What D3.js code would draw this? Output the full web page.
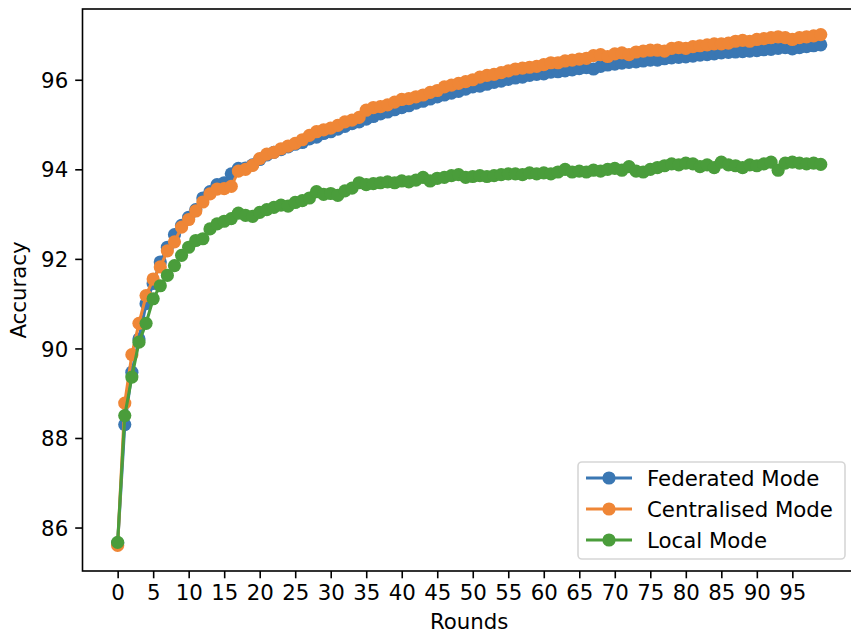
<!DOCTYPE html>
<html>
<head>
<meta charset="utf-8">
<script src="https://cdn.jsdelivr.net/npm/d3@7"></script>
<style>
  html, body { margin: 0; padding: 0; background: #fff; }
  svg { display: block; }
  text { font-family: "DejaVu Sans", sans-serif; fill: #000; }
</style>
</head>
<body>
<svg id="chart" width="851" height="633"></svg>
<script>
// Accuracy per training round for three training modes
const rounds = d3.range(0, 100);

const federated = [
  85.65, 88.30, 89.47, 90.21, 91.00, 91.45, 91.93, 92.26, 92.54, 92.75,
  92.93, 93.10, 93.36, 93.50, 93.66, 93.70, 93.90, 94.02, 94.03, 94.10,
  94.22, 94.32, 94.38, 94.44, 94.50, 94.56, 94.60, 94.68, 94.72, 94.80,
  94.84, 94.90, 94.96, 95.02, 95.06, 95.12, 95.18, 95.24, 95.28, 95.33,
  95.38, 95.42, 95.48, 95.52, 95.57, 95.62, 95.66, 95.70, 95.74, 95.79,
  95.84, 95.86, 95.90, 95.94, 95.97, 96.01, 96.04, 96.06, 96.10, 96.12,
  96.13, 96.17, 96.18, 96.20, 96.22, 96.25, 96.27, 96.24, 96.30, 96.33,
  96.35, 96.37, 96.39, 96.40, 96.42, 96.44, 96.44, 96.47, 96.49, 96.50,
  96.51, 96.53, 96.55, 96.56, 96.58, 96.60, 96.61, 96.62, 96.63, 96.64,
  96.65, 96.67, 96.68, 96.70, 96.72, 96.69, 96.72, 96.74, 96.76, 96.78
];

const centralised = [
  85.60, 88.78, 89.86, 90.56, 91.18, 91.55, 91.82, 92.18, 92.38, 92.71,
  92.88, 93.07, 93.27, 93.45, 93.56, 93.57, 93.62, 93.96, 94.00, 94.09,
  94.24, 94.34, 94.38, 94.46, 94.52, 94.58, 94.66, 94.76, 94.84, 94.88,
  94.92, 94.98, 95.06, 95.10, 95.16, 95.32, 95.38, 95.40, 95.44, 95.50,
  95.56, 95.58, 95.62, 95.66, 95.72, 95.76, 95.84, 95.88, 95.92, 95.96,
  96.00, 96.06, 96.10, 96.12, 96.16, 96.20, 96.24, 96.26, 96.28, 96.30,
  96.34, 96.38, 96.38, 96.42, 96.44, 96.46, 96.48, 96.54, 96.56, 96.52,
  96.58, 96.60, 96.56, 96.62, 96.64, 96.66, 96.66, 96.64, 96.70, 96.72,
  96.70, 96.74, 96.76, 96.78, 96.80, 96.80, 96.82, 96.86, 96.88, 96.86,
  96.90, 96.92, 96.94, 96.96, 96.94, 96.90, 96.94, 96.96, 96.98, 97.01
];

const local = [
  85.67, 88.50, 89.36, 90.14, 90.56, 91.11, 91.40, 91.63, 91.85, 92.08,
  92.26, 92.41, 92.45, 92.67, 92.78, 92.84, 92.90, 93.02, 92.97, 92.95,
  93.04, 93.10, 93.15, 93.20, 93.18, 93.26, 93.30, 93.36, 93.50, 93.44,
  93.46, 93.42, 93.52, 93.58, 93.70, 93.66, 93.68, 93.70, 93.72, 93.70,
  93.74, 93.72, 93.76, 93.82, 93.74, 93.80, 93.82, 93.86, 93.88, 93.82,
  93.84, 93.86, 93.84, 93.86, 93.88, 93.90, 93.90, 93.88, 93.92, 93.90,
  93.92, 93.90, 93.94, 94.00, 93.94, 93.96, 93.94, 93.98, 93.96, 94.00,
  94.02, 93.98, 94.06, 93.96, 93.94, 94.00, 94.04, 94.08, 94.12, 94.10,
  94.14, 94.12, 94.06, 94.10, 94.04, 94.16, 94.10, 94.08, 94.04, 94.10,
  94.08, 94.12, 94.16, 93.98, 94.14, 94.16, 94.14, 94.12, 94.14, 94.11
];

const seriesNames = ["Federated Mode", "Centralised Mode", "Local Mode"];
const seriesColors = ["#3a77b3", "#ef8636", "#4a9d3b"];
const xTicks = d3.range(0, 100, 5);
const yTicks = [86, 88, 90, 92, 94, 96];

const series = [federated, centralised, local].map((vals, k) => ({
  name: seriesNames[k],
  color: seriesColors[k],
  points: rounds.map((r, i) => ({ x: r, y: vals[i] }))
}));

const svg = d3.select("#chart");
const plotLeft = 82.5, plotRight = 855.9, plotTop = 9, plotBottom = 571;

// Axis limits padded by 5% of the data span on each side
const xPad = (d3.max(rounds) - d3.min(rounds)) * 0.05;
const x = d3.scaleLinear()
  .domain([d3.min(rounds) - xPad, d3.max(rounds) + xPad])
  .range([plotLeft, plotRight]);
const allY = federated.concat(centralised, local);
const yPad = (d3.max(allY) - d3.min(allY)) * 0.05;
const y = d3.scaleLinear()
  .domain([d3.min(allY) - yPad, d3.max(allY) + yPad])
  .range([plotBottom, plotTop]);

svg.append("defs").append("clipPath").attr("id", "plot-clip")
  .append("rect")
  .attr("x", plotLeft).attr("y", plotTop)
  .attr("width", plotRight - plotLeft).attr("height", plotBottom - plotTop);

const plot = svg.append("g").attr("clip-path", "url(#plot-clip)");
const line = d3.line().x(d => x(d.x)).y(d => y(d.y));
const markerR = 6.6;

series.forEach(s => {
  const g = plot.append("g");
  g.append("path")
    .attr("d", line(s.points))
    .attr("fill", "none")
    .attr("stroke", s.color)
    .attr("stroke-width", 3.1)
    .attr("stroke-linejoin", "round")
    .attr("stroke-linecap", "square");
  g.selectAll("circle").data(s.points).join("circle")
    .attr("cx", d => x(d.x))
    .attr("cy", d => y(d.y))
    .attr("r", markerR)
    .attr("fill", s.color);
});

// Axes
const tickLen = 7.3, fontSize = 21.3;
const xAxis = svg.append("g")
  .attr("transform", `translate(0,${plotBottom})`)
  .call(d3.axisBottom(x).tickValues(xTicks).tickSize(tickLen).tickSizeOuter(0).tickPadding(6.5));
const yAxis = svg.append("g")
  .attr("transform", `translate(${plotLeft},0)`)
  .call(d3.axisLeft(y).tickValues(yTicks).tickSize(tickLen).tickSizeOuter(0).tickPadding(7));

[xAxis, yAxis].forEach(a => {
  a.select(".domain").remove();
  a.selectAll(".tick line").attr("stroke", "#000").attr("stroke-width", 1.6);
  a.selectAll(".tick text")
    .attr("font-family", "DejaVu Sans, sans-serif")
    .attr("font-size", fontSize)
    .attr("fill", "#000");
});
xAxis.selectAll(".tick text").attr("dy", "0.72em");
yAxis.selectAll(".tick text").attr("dy", "0.36em");

// Frame
svg.append("rect")
  .attr("x", plotLeft).attr("y", plotTop)
  .attr("width", plotRight - plotLeft).attr("height", plotBottom - plotTop)
  .attr("fill", "none").attr("stroke", "#000").attr("stroke-width", 1.6);

// Axis titles
svg.append("text")
  .attr("x", (plotLeft + plotRight) / 2).attr("y", 629)
  .attr("text-anchor", "middle")
  .attr("font-size", fontSize)
  .text("Rounds");
svg.append("text")
  .attr("transform", `translate(26,${(plotTop + plotBottom) / 2}) rotate(-90)`)
  .attr("text-anchor", "middle")
  .attr("font-size", fontSize)
  .text("Accuracy");

// Legend
const legend = svg.append("g");
legend.append("rect")
  .attr("x", 578).attr("y", 462)
  .attr("width", 267).attr("height", 97)
  .attr("rx", 4).attr("ry", 4)
  .attr("fill", "#fff").attr("fill-opacity", 0.8)
  .attr("stroke", "#d6d6d6").attr("stroke-width", 1.6);
const rowY = [478, 509, 540];
series.forEach((s, k) => {
  const g = legend.append("g").attr("transform", `translate(0,${rowY[k]})`);
  g.append("line")
    .attr("x1", 586).attr("x2", 632)
    .attr("stroke", s.color).attr("stroke-width", 3.1);
  g.append("circle").attr("cx", 609).attr("cy", 0).attr("r", markerR).attr("fill", s.color);
  g.append("text")
    .attr("x", 647).attr("y", 0).attr("dy", "0.36em")
    .attr("font-size", fontSize)
    .text(s.name);
});
</script>
</body>
</html>
